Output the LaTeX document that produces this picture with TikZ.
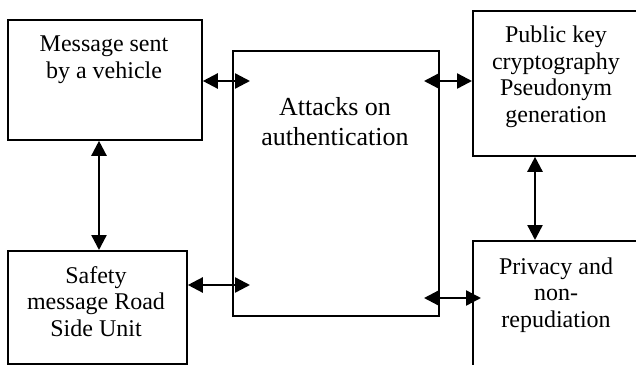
\documentclass[tikz,border=0pt]{standalone}
\usepackage{fontspec}
\setmainfont{Liberation Serif}
\usetikzlibrary{arrows.meta,calc}
\begin{document}
\begin{tikzpicture}[x=1pt,y=-1pt,
  box/.style={draw=black,line width=1.8pt,inner sep=0pt,anchor=north west},
  txt/.style={align=center,inner sep=0pt,anchor=base,font=\fontsize{24}{26.5}\selectfont},
  bigtxt/.style={align=center,inner sep=0pt,anchor=base,font=\fontsize{26}{30}\selectfont},
  arr/.style={line width=2.4pt,{Triangle[length=15pt,width=15pt]}-{Triangle[length=15pt,width=15pt]}}]
\useasboundingbox (0,0) rectangle (636,364);
\clip (0,0) rectangle (636,364);
\node[box,minimum width=194pt,minimum height=120pt] (msg) at (7,19) {};
\node[box,minimum width=206pt,minimum height=265pt] (att) at (232,50) {};
\node[box,minimum width=175pt,minimum height=145pt] (pub) at (472,10) {};
\node[box,minimum width=179pt,minimum height=113pt] (saf) at (7,250) {};
\node[box,minimum width=175pt,minimum height=135pt] (priv) at (472,240) {};
\node[txt] (tmsg) at (104,78) {Message sent\\by a vehicle};
\node[bigtxt] (tatt) at (335,145) {Attacks on\\authentication};
\node[txt] (tpub) at (556,122) {Public key\\cryptography\\Pseudonym\\generation};
\node[txt] (tsaf) at (96,336) {Safety\\message Road\\Side Unit};
\node[txt] (tpriv) at (556,327) {Privacy and\\non-\\repudiation};
\coordinate (c1) at (250,81);
\coordinate (c2) at (424,81);
\coordinate (c3) at (250,285);
\coordinate (c4) at (424,298);
\coordinate (c5) at (99,0);
\coordinate (c6) at (535,0);
\draw[arr] (c1 -| msg.east) -- (c1);
\draw[arr] (c2) -- (c2 -| pub.west);
\draw[arr] (c3 -| saf.east) -- (c3);
\draw[arr,shorten >=-9pt] (c4) -- (c4 -| priv.west);
\draw[arr] (c5 |- msg.south) -- (c5 |- saf.north);
\draw[arr] (c6 |- pub.south) -- (c6 |- priv.north);
\end{tikzpicture}
\end{document}
